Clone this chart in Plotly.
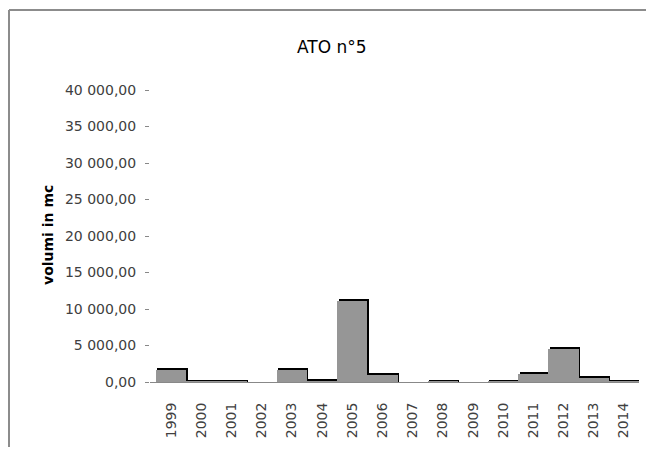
import plotly.graph_objects as go

years = ["1999", "2000", "2001", "2002", "2003", "2004", "2005", "2006",
         "2007", "2008", "2009", "2010", "2011", "2012", "2013", "2014"]
volumes = [1700, 120, 70, 0, 1700, 130, 11150, 1000,
           0, 90, 0, 110, 1100, 4550, 550, 110]
ytick_vals = [0, 5000, 10000, 15000, 20000, 25000, 30000, 35000, 40000]
ytick_text = ["0,00", "5 000,00", "10 000,00", "15 000,00", "20 000,00",
              "25 000,00", "30 000,00", "35 000,00", "40 000,00"]

OFF = 8  # default body margin of the page
W, H = 654 - 2 * OFF, 455 - 2 * OFF
# plot area in page pixels: x 150..639, y 90..382
ML, MT = 150 - OFF, 90 - OFF
MR = W - (639 - OFF)
MB = H - (382 - OFF)
PW, PH = W - ML - MR, H - MT - MB
YMAX = 40000
XR = [-0.7, 15.5]

def px_x(p):  # page pixel -> paper x
    return (p - OFF - ML) / PW

def px_y(p):  # page pixel -> paper y
    return (H - MB - (p - OFF)) / PH

# shadow (dark edge up/right of each bar)
dy = 1.6 * YMAX / PH
dx = 1.4 * (XR[1] - XR[0]) / PW
shadow = [v + dy if v > 0 else 0 for v in volumes]

fig = go.Figure()
fig.add_trace(go.Bar(x=years, y=shadow, width=1, offset=-0.5 + dx,
                     marker=dict(color="#000000", line=dict(width=0)),
                     hoverinfo="skip", showlegend=False))
fig.add_trace(go.Bar(x=years, y=volumes, width=1, offset=-0.5,
                     marker=dict(color="#969696", line=dict(width=0)),
                     showlegend=False))

fig.update_layout(
    width=W, height=H,
    margin=dict(l=ML, r=MR, t=MT, b=MB, autoexpand=False),
    paper_bgcolor="white", plot_bgcolor="white",
    barmode="overlay", bargap=0,
    font=dict(family="DejaVu Sans", color="#404040"),
    xaxis=dict(type="category", range=XR, showgrid=False, zeroline=False,
               showline=True, linecolor="#888888", linewidth=1,
               ticks="", tickangle=-90, ticklabelstandoff=14,
               tickfont=dict(size=14, color="#404040"), automargin=False),
    yaxis=dict(range=[0, YMAX], showgrid=False, zeroline=False, showline=False,
               tickvals=ytick_vals, ticktext=ytick_text, ticks="outside",
               ticklen=4, tickcolor="#888888", ticklabelstandoff=6,
               tickfont=dict(size=14, color="#404040"), automargin=False),
    annotations=[
        dict(text="ATO n°5", x=px_x(332), y=px_y(47), xref="paper", yref="paper",
             showarrow=False, xanchor="center", yanchor="middle",
             font=dict(size=17, color="#000000", family="DejaVu Sans")),
        dict(text="<b>volumi in mc</b>", x=px_x(48), y=px_y(235), xref="paper",
             yref="paper", showarrow=False, textangle=-90, xanchor="center",
             yanchor="middle", font=dict(size=14, color="#000000", family="DejaVu Sans")),
    ],
    shapes=[
        dict(type="line", xref="paper", yref="paper", x0=px_x(9), x1=px_x(660),
             y0=px_y(10), y1=px_y(10), line=dict(color="#8c8c8c", width=2)),
        dict(type="line", xref="paper", yref="paper", x0=px_x(9), x1=px_x(9),
             y0=px_y(10), y1=px_y(460), line=dict(color="#8c8c8c", width=2)),
    ],
)

fig.write_html("out.html")
